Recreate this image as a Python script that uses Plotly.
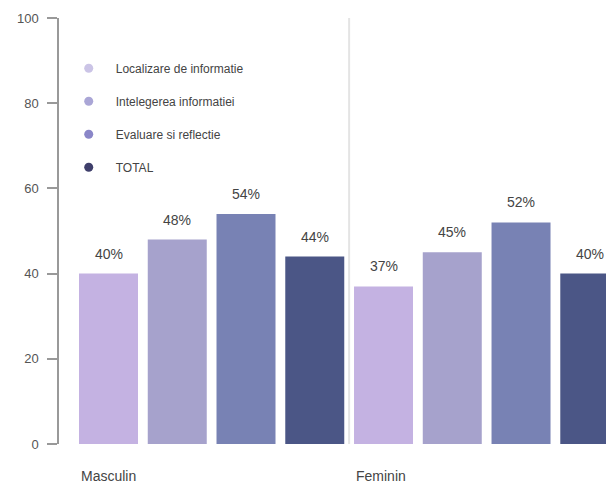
import plotly.graph_objects as go

groups = ["Masculin", "Feminin"]
series = ["Localizare de informatie", "Intelegerea informatiei", "Evaluare si reflectie", "TOTAL"]
values = {
    "Localizare de informatie": [40, 37],
    "Intelegerea informatiei": [48, 45],
    "Evaluare si reflectie": [54, 52],
    "TOTAL": [44, 40],
}
bar_colors = ["#c4b2e2", "#a6a2cc", "#7882b4", "#4b5686"]
legend_colors = ["#cbc4e6", "#aaa6d6", "#8a86c8", "#3f3f6b"]
y_ticks = [0, 20, 40, 60, 80, 100]

FONT = "Liberation Sans, Arial, sans-serif"
fig = go.Figure()

for i, s in enumerate(series):
    fig.add_trace(go.Bar(
        x=groups, y=values[s], name=s, marker_color=bar_colors[i],
        marker_line_width=0, showlegend=False, hoverinfo="skip",
    ))
for i, s in enumerate(series):
    fig.add_trace(go.Scatter(
        x=[None], y=[None], mode="markers", name=s, legendgroup=s,
        marker=dict(symbol="circle", size=9, color=legend_colors[i]),
        showlegend=True,
    ))

n = len(series)
annotations = []
for gi, g in enumerate(groups):
    for ti, s in enumerate(series):
        annotations.append(dict(
            x=gi + (ti - (n - 1) / 2) / n, y=values[s][gi], xref="x", yref="y",
            text=f"{values[s][gi]}%", showarrow=False, yshift=20,
            font=dict(family=FONT, size=14, color="#444"),
        ))
    annotations.append(dict(
        x=gi - 0.5 + 0.018, y=0, xref="x", yref="paper", text=g,
        showarrow=False, xanchor="left", yanchor="middle", yshift=-32,
        font=dict(family=FONT, size=14, color="#444"),
    ))

fig.update_layout(
    width=606, height=483,
    margin=dict(l=59, r=0, t=18, b=39),
    paper_bgcolor="white", plot_bgcolor="white",
    barmode="group", bargap=0, bargroupgap=0.142,
    annotations=annotations,
    shapes=[dict(type="line", xref="x", yref="y", x0=0.5, x1=0.5, y0=0, y1=100,
                 line=dict(color="#e4e4e4", width=2), layer="below")],
    legend=dict(x=0.005, y=0.916, xanchor="left", yanchor="top",
                font=dict(family=FONT, size=12, color="#444"),
                tracegroupgap=14, itemwidth=44, bgcolor="rgba(0,0,0,0)"),
    xaxis=dict(range=[-0.555, 1.434], showticklabels=False, showline=False,
               showgrid=False, zeroline=False, ticks=""),
    yaxis=dict(range=[0, 100], tickvals=y_ticks, ticks="outside", ticklen=10,
               tickcolor="#999", tickwidth=1.5, showline=True, linecolor="#999",
               linewidth=1.5, showgrid=False, zeroline=False,
               tickfont=dict(family=FONT, size=13, color="#555"),
               ticklabelstandoff=6),
    font=dict(family=FONT),
)

fig.write_html(
    "out.html",
    config={"displayModeBar": False},
    post_script="document.body.style.margin='0';document.body.style.overflow='hidden';",
)
